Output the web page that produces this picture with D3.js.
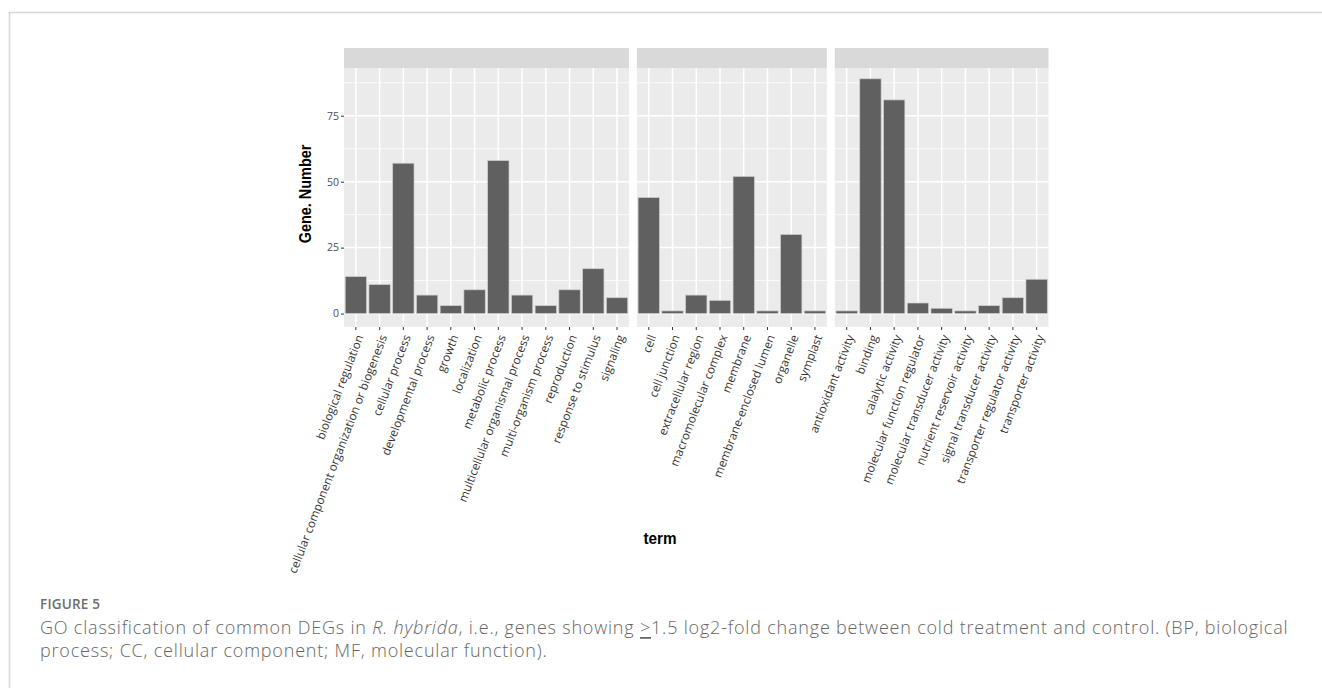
<!DOCTYPE html>
<html>
<head>
<meta charset="utf-8">
<script src="https://cdn.jsdelivr.net/npm/d3@7"></script>
<style>
  html, body { margin: 0; padding: 0; background: #ffffff; }
  svg { display: block; }
</style>
</head>
<body>
<svg id="chart" width="1322" height="688"></svg>
<script>
// ---- data ----
const bpTerms = ["biological regulation", "cellular component organization or biogenesis", "cellular process",
  "developmental process", "growth", "localization", "metabolic process", "multicellular organismal process",
  "multi-organism process", "reproduction", "response to stimulus", "signaling"];
const bpValues = [14, 11, 57, 7, 3, 9, 58, 7, 3, 9, 17, 6];

const ccTerms = ["cell", "cell junction", "extracellular region", "macromolecular complex", "membrane",
  "membrane-enclosed lumen", "organelle", "symplast"];
const ccValues = [44, 1, 7, 5, 52, 1, 30, 1];

const mfTerms = ["antioxidant activity", "binding", "calalytic activity", "molecular function regulator",
  "molecular transducer activity", "nutrient reservoir activity", "signal transducer activity",
  "transporter regulator activity", "transporter activity"];
const mfValues = [1, 89, 81, 4, 2, 1, 3, 6, 13];

const yTicks = [0, 25, 50, 75];
const yMinorTicks = [12.5, 37.5, 62.5, 87.5];
const yLabel = "Gene. Number";
const xLabel = "term";
const figLabel = "FIGURE 5";

// ---- layout ----
const svg = d3.select("#chart");
const plotLeft = 344, plotRight = 1048.5, gap = 8;
const stripTop = 48, panelTop = 68, panelBottom = 327;

const panels = [
  { terms: bpTerms, values: bpValues },
  { terms: ccTerms, values: ccValues },
  { terms: mfTerms, values: mfValues }
];
const nTotal = d3.sum(panels, p => p.terms.length);
const perCat = (plotRight - plotLeft - gap * (panels.length - 1)) / nTotal;

const y = d3.scaleLinear().domain([-5.1, 93.1]).range([panelBottom, panelTop]);

// figure frame
svg.append("path")
  .attr("d", `M9.5,688 L9.5,12.5 L1322,12.5`)
  .attr("fill", "none").attr("stroke", "#d6d6d6").attr("stroke-width", 1.6);

let cursor = plotLeft;
panels.forEach((p, pi) => {
  const w = perCat * p.terms.length;
  const x = d3.scaleBand().domain(p.terms).range([cursor, cursor + w]).paddingInner(0.1).paddingOuter(0.05);
  const xc = t => x(t) + x.bandwidth() / 2;
  const g = svg.append("g");
  g.append("rect").attr("x", cursor).attr("y", stripTop).attr("width", w).attr("height", panelTop - stripTop)
    .attr("fill", "#d9d9d9");
  g.append("rect").attr("x", cursor).attr("y", panelTop).attr("width", w).attr("height", panelBottom - panelTop)
    .attr("fill", "#ebebeb");
  g.selectAll(".ymin").data(yMinorTicks).join("line")
    .attr("x1", cursor).attr("x2", cursor + w)
    .attr("y1", d => y(d)).attr("y2", d => y(d))
    .attr("stroke", "#ffffff").attr("stroke-width", 0.8);
  g.selectAll(".ymaj").data(yTicks).join("line")
    .attr("x1", cursor).attr("x2", cursor + w)
    .attr("y1", d => y(d)).attr("y2", d => y(d))
    .attr("stroke", "#ffffff").attr("stroke-width", 1.5);
  g.selectAll(".xmaj").data(p.terms).join("line")
    .attr("x1", d => xc(d)).attr("x2", d => xc(d))
    .attr("y1", panelTop).attr("y2", panelBottom)
    .attr("stroke", "#ffffff").attr("stroke-width", 1.5);
  g.selectAll(".bar").data(p.terms.map((t, i) => ({ t, v: p.values[i] }))).join("rect")
    .attr("x", d => x(d.t)).attr("width", x.bandwidth())
    .attr("y", d => y(d.v)).attr("height", d => y(0) - y(d.v))
    .attr("fill", "#5f605f").attr("stroke", "#cfcfcf").attr("stroke-width", 0.7);
  const xAxis = d3.axisBottom(x).tickSize(3).tickPadding(2);
  const ax = g.append("g").attr("transform", `translate(0,${panelBottom})`).call(xAxis);
  ax.select(".domain").remove();
  ax.selectAll(".tick line").attr("stroke", "#333333").attr("stroke-width", 1);
  ax.selectAll(".tick text")
    .attr("font-family", "'Open Sans', sans-serif").attr("font-size", 11.8).attr("fill", "#333333")
    .attr("text-anchor", "end")
    .attr("dy", null).attr("y", null)
    .attr("transform", "translate(3,8) rotate(-69)")
    .attr("dominant-baseline", "central");
  cursor += w + gap;
});

// y axis
const yAxis = d3.axisLeft(y).tickValues(yTicks).tickSize(3).tickPadding(2);
const ay = svg.append("g").attr("transform", `translate(${plotLeft},0)`).call(yAxis);
ay.select(".domain").remove();
ay.selectAll(".tick line").attr("stroke", "#333333");
ay.selectAll(".tick text").attr("font-family", "'Open Sans', sans-serif").attr("font-size", 10.5).attr("fill", "#4d4d4d");

// axis titles (condensed bold)
svg.append("text").attr("transform", "translate(305,194) rotate(-90) scale(0.85,1)")
  .attr("text-anchor", "middle").attr("dominant-baseline", "central")
  .attr("font-family", "'Liberation Sans Narrow', 'Arial Narrow', sans-serif").attr("font-weight", "bold")
  .attr("font-size", 17).attr("fill", "#000").text(yLabel);
svg.append("text").attr("transform", "translate(660,538) scale(0.9,1)")
  .attr("text-anchor", "middle").attr("dominant-baseline", "central")
  .attr("font-family", "'Liberation Sans Narrow', 'Arial Narrow', sans-serif").attr("font-weight", "bold")
  .attr("font-size", 17).attr("fill", "#000").text(xLabel);

// caption
svg.append("text").attr("x", 40).attr("y", 604).attr("dominant-baseline", "central")
  .attr("font-family", "'Open Sans', sans-serif").attr("font-weight", 600).attr("font-size", 13.5)
  .attr("letter-spacing", 0.2).attr("fill", "#6d6d6d").text(figLabel);
const capStyle = sel => sel.attr("font-family", "'Open Sans', sans-serif").attr("font-size", 18)
  .attr("font-weight", 300).attr("letter-spacing", 0.8).attr("fill", "#666666");
const cap1 = svg.append("text").attr("x", 40).attr("y", 627).attr("dominant-baseline", "central").call(capStyle);
cap1.append("tspan").text("GO classification of common DEGs in ");
cap1.append("tspan").attr("font-style", "italic").text("R. hybrida");
cap1.append("tspan").text(", i.e., genes showing ");
cap1.append("tspan").attr("text-decoration", "underline").text(">");
cap1.append("tspan").text("1.5 log2-fold change between cold treatment and control. (BP, biological");
svg.append("text").attr("x", 40).attr("y", 650).attr("dominant-baseline", "central").call(capStyle)
  .text("process; CC, cellular component; MF, molecular function).");
</script>
</body>
</html>
